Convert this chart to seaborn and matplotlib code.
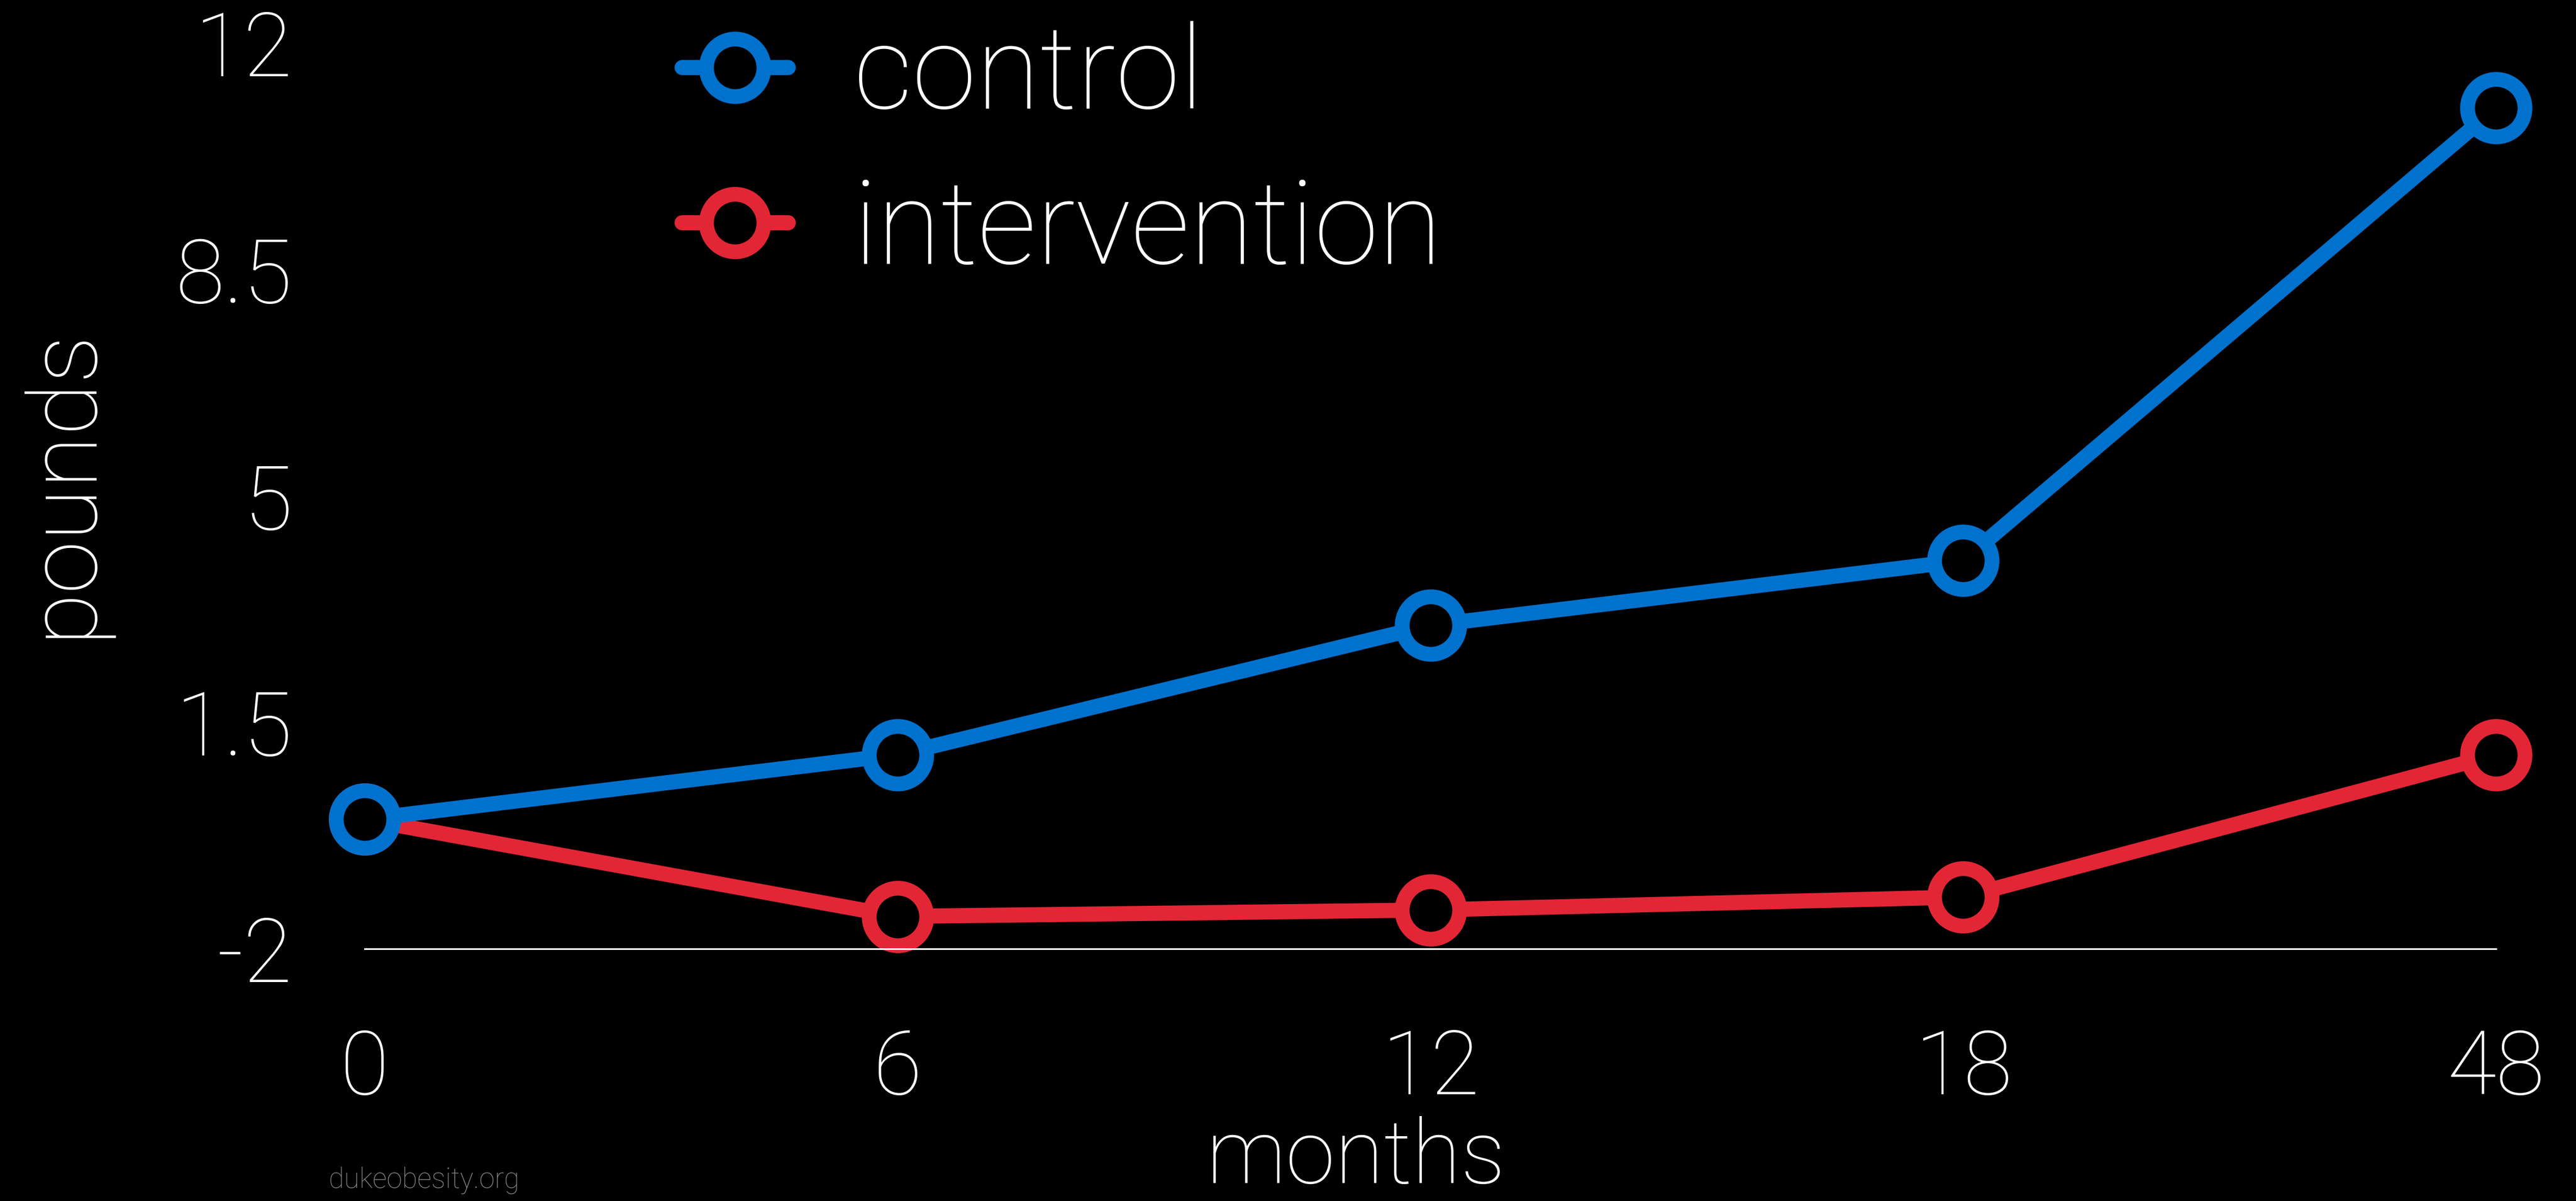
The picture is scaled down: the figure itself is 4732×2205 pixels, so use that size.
import matplotlib
matplotlib.use("Agg")
import matplotlib.pyplot as plt
from matplotlib.lines import Line2D
import seaborn as sns
import pandas as pd

# Weight change (pounds) over follow-up visits
months = ["0", "6", "12", "18", "48"]
control = [0.0, 1.0, 3.0, 4.0, 11.0]
intervention = [0.0, -1.5, -1.4, -1.2, 1.0]

y_ticks = [-2, 1.5, 5, 8.5, 12]
y_tick_labels = ["-2", "1.5", "5", "8.5", "12"]

group_names = ["control", "intervention"]
colors = {"control": "#0072CE", "intervention": "#E32636"}

df = pd.DataFrame({
    "months": months * 2,
    "pounds": control + intervention,
    "group": ["control"] * len(months) + ["intervention"] * len(months),
})

sns.set_theme(style="dark")
plt.rcParams["font.family"] = ["Roboto", "DejaVu Sans"]
plt.rcParams["font.weight"] = "light"
plt.rcParams["axes.labelweight"] = "light"

fig = plt.figure(figsize=(47.32, 22.05), dpi=100, facecolor="black")
ax = fig.add_axes([0.1416, 0.2100, 0.8274, 0.7542])
ax.set_facecolor("black")

line_kw = dict(linewidth=20, marker="o", markersize=76, markeredgewidth=19.5,
               markerfacecolor="black")

# intervention first so the control marker sits on top at month 0
sns.lineplot(data=df, x="months", y="pounds", hue="group",
             hue_order=["intervention", "control"], palette=colors,
             legend=False, ax=ax, clip_on=False, **line_kw)
for ln in ax.lines:
    ln.set_markeredgecolor(ln.get_color())

ax.set_xlim(0, len(months) - 1)
ax.set_ylim(-2, 12)
ax.set_yticks(y_ticks)
ax.set_yticklabels(y_tick_labels)
ax.grid(False)

for side in ["top", "right", "left"]:
    ax.spines[side].set_visible(False)
ax.spines["bottom"].set_color("white")
ax.spines["bottom"].set_linewidth(2.2)

ax.tick_params(axis="x", length=0, pad=104, labelsize=118, labelcolor="white")
ax.tick_params(axis="y", length=0, pad=96, labelsize=118, labelcolor="white")

ax.set_xlabel("months", fontsize=118, color="white")
ax.xaxis.set_label_coords(0.465, -0.232)
ax.xaxis.label.set_va("center")
ax.set_ylabel("pounds", fontsize=127, color="white")
ax.yaxis.set_label_coords(-0.1418, 0.515)
ax.yaxis.label.set_va("center")

handles = [Line2D([], [], color=colors[g], markeredgecolor=colors[g], **line_kw)
           for g in group_names]
leg = fig.legend(handles, group_names, loc="center left",
                 bbox_to_anchor=(0.2648, 0.8717), frameon=False,
                 fontsize=154, handlelength=0.91, handletextpad=0.56,
                 labelspacing=0.38, borderpad=0, borderaxespad=0,
                 labelcolor="white")

fig.text(604 / 4732, 1 - 2167 / 2205, "dukeobesity.org", fontsize=37,
         color="#868686", ha="left", va="center")

fig.savefig("out.png", dpi=100, facecolor="black")
